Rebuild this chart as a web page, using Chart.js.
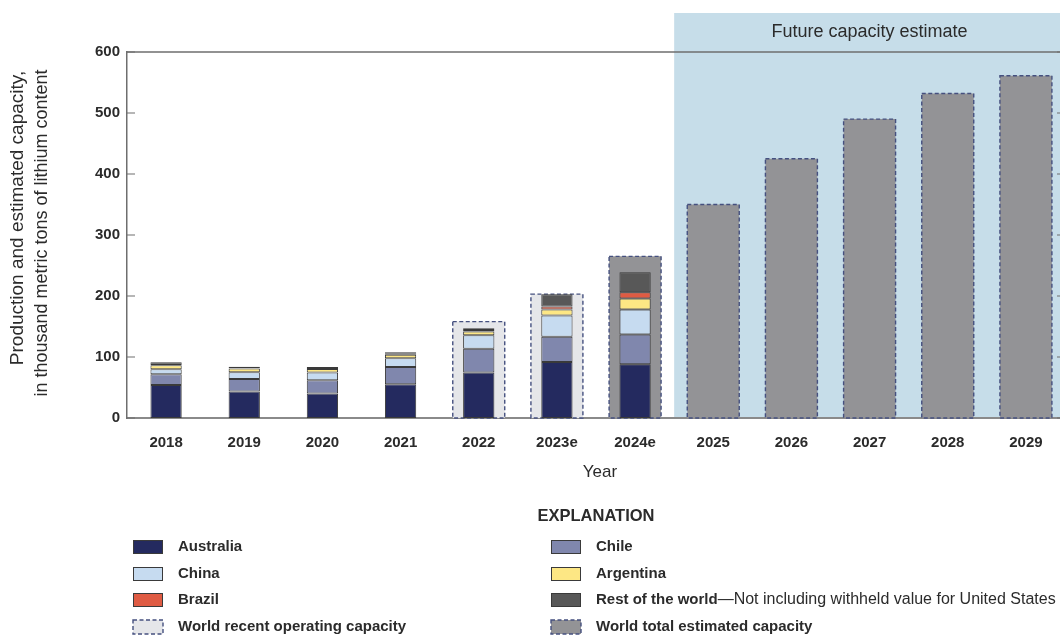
<!DOCTYPE html>
<html>
<head>
<meta charset="utf-8">
<script src="https://cdn.jsdelivr.net/npm/chart.js@4.4.1/dist/chart.umd.min.js"></script>
<style>
  html, body { margin: 0; padding: 0; background: #ffffff; overflow: hidden; width: 1060px; height: 635px; }
  #wrap { position: relative; width: 1075px; height: 635px; }
</style>
</head>
<body>
<div id="wrap"><canvas id="chart" width="1075" height="635"></canvas></div>
<script>
// Lithium mine production by country and world capacity, thousand metric tons of lithium content
const years = ['2018', '2019', '2020', '2021', '2022', '2023e', '2024e', '2025', '2026', '2027', '2028', '2029'];

const australia = [54, 43.5, 40, 55.3, 74.7, 91.7, 88, null, null, null, null, null];
const chile     = [17.6, 20.5, 22, 28.5, 39, 41.4, 49, null, null, null, null, null];
const china     = [8.5, 10.8, 12.5, 14, 22, 35, 41, null, null, null, null, null];
const argentina = [6.4, 6.3, 5.9, 6, 6.2, 9.6, 18, null, null, null, null, null];
const brazil    = [0.3, 0.3, 1.4, 1.7, 2.2, 4.9, 10, null, null, null, null, null];
const restWorld = [4.5, 2.6, 2, 2.2, 3, 20.4, 33, null, null, null, null, null];

const operatingCapacity = [null, null, null, null, 158, 203, null, null, null, null, null, null];
const totalCapacity     = [null, null, null, null, null, null, 265, 350, 425, 490, 532, 561];

const yTicks = [0, 100, 200, 300, 400, 500, 600];

const FONT = "'Liberation Sans Narrow', 'Arial Narrow', 'Liberation Sans', Arial, sans-serif";
const TEXT = '#2b2b2b';
const AXIS = '#6e6e6e';
const DASH_COLOR = '#45507f';

const colors = {
  australia: '#242a5f',
  chile: '#8087ad',
  china: '#c6dbf0',
  argentina: '#fde784',
  brazil: '#df5b43',
  rest: '#585858',
  operating: '#e5e6e9',
  total: '#939396',
  future: '#c6dde9'
};

function prodSet(label, data, color) {
  return {
    label, data, backgroundColor: color,
    borderColor: '#3a3a3a', borderWidth: 1, borderSkipped: false,
    stack: 'production', grouped: false,
    barPercentage: 0.4, categoryPercentage: 1
  };
}
function capSet(label, data, color, stack) {
  return {
    label, data, backgroundColor: color, borderWidth: 0,
    stack, grouped: false, dashed: true,
    barPercentage: 0.665, categoryPercentage: 1
  };
}

const datasets = [
  prodSet('Australia', australia, colors.australia),
  prodSet('Chile', chile, colors.chile),
  prodSet('China', china, colors.china),
  prodSet('Argentina', argentina, colors.argentina),
  prodSet('Brazil', brazil, colors.brazil),
  prodSet('Rest of the world', restWorld, colors.rest),
  capSet('World recent operating capacity', operatingCapacity, colors.operating, 'operating'),
  capSet('World total estimated capacity', totalCapacity, colors.total, 'total')
];

function dashedRect(ctx, x, y, w, h) {
  ctx.save();
  ctx.strokeStyle = DASH_COLOR;
  ctx.lineWidth = 1.4;
  ctx.setLineDash([4, 2.5]);
  ctx.strokeRect(x, y, w, h);
  ctx.restore();
}

function rotatedText(ctx, text, x, y) {
  ctx.save();
  ctx.translate(x, y);
  ctx.rotate(-Math.PI / 2);
  ctx.fillText(text, 0, 0);
  ctx.restore();
}

const decorations = {
  id: 'decorations',
  beforeDraw(chart) {
    const { ctx, chartArea: a, scales: { x } } = chart;
    const split = (x.getPixelForValue(6) + x.getPixelForValue(7)) / 2;
    ctx.save();
    ctx.fillStyle = colors.future;
    ctx.fillRect(split, 13, chart.width - split, a.bottom - 13);
    ctx.fillStyle = TEXT;
    ctx.font = `18px ${FONT}`;
    ctx.textAlign = 'center';
    ctx.textBaseline = 'middle';
    ctx.fillText('Future capacity estimate', (split + a.right) / 2, 32);
    ctx.restore();
  },
  afterDatasetDraw(chart, args) {
    const ds = chart.data.datasets[args.index];
    if (!ds.dashed) return;
    const { ctx } = chart;
    args.meta.data.forEach((bar, i) => {
      if (ds.data[i] == null) return;
      const p = bar.getProps(['x', 'y', 'base', 'width'], true);
      dashedRect(ctx, p.x - p.width / 2, p.y, p.width, p.base - p.y);
    });
  },
  afterDraw(chart) {
    const { ctx, chartArea: a, scales: { y } } = chart;
    ctx.save();
    // top frame line
    ctx.strokeStyle = AXIS;
    ctx.lineWidth = 1.5;
    ctx.beginPath();
    ctx.moveTo(a.left, a.top);
    ctx.lineTo(a.right, a.top);
    ctx.stroke();
    // inward tick marks on both vertical axes
    ctx.lineWidth = 1.2;
    yTicks.forEach(v => {
      const py = y.getPixelForValue(v);
      ctx.beginPath();
      ctx.moveTo(a.left, py); ctx.lineTo(a.left + 8, py);
      ctx.moveTo(a.right - 8, py); ctx.lineTo(a.right, py);
      ctx.stroke();
    });
    // y axis title
    ctx.fillStyle = TEXT;
    ctx.textAlign = 'center';
    ctx.textBaseline = 'middle';
    ctx.font = `19px ${FONT}`;
    rotatedText(ctx, 'Production and estimated capacity,', 18, 218);
    ctx.font = `18px ${FONT}`;
    rotatedText(ctx, 'in thousand metric tons of lithium content', 42, 233);
    // x axis title
    ctx.font = `17px ${FONT}`;
    ctx.fillText('Year', 600, 472);

    // explanation
    ctx.font = `bold 16.5px ${FONT}`;
    ctx.fillText('EXPLANATION', 596, 516);
    const ds = chart.data.datasets;
    const byLabel = l => ds.find(d => d.label === l);
    const cols = [
      { box: 133, text: 178, items: ['Australia', 'China', 'Brazil', 'World recent operating capacity'] },
      { box: 551, text: 596, items: ['Chile', 'Argentina', 'Rest of the world', 'World total estimated capacity'] }
    ];
    const rows = [547, 574, 600, 627];
    cols.forEach(col => {
      col.items.forEach((label, r) => {
        const d = byLabel(label);
        const cyr = rows[r];
        const bx = col.box, by = cyr - 7, bw = 30, bh = 14;
        ctx.fillStyle = d.backgroundColor;
        ctx.fillRect(bx, by, bw, bh);
        if (d.dashed) {
          dashedRect(ctx, bx, by, bw, bh);
        } else {
          ctx.strokeStyle = '#3a3a3a';
          ctx.lineWidth = 1;
          ctx.strokeRect(bx + 0.5, by + 0.5, bw - 1, bh - 1);
        }
        ctx.fillStyle = TEXT;
        ctx.textAlign = 'left';
        ctx.font = `bold 15px ${FONT}`;
        ctx.fillText(label, col.text, cyr);
        if (label === 'Rest of the world') {
          const w = ctx.measureText(label).width;
          ctx.font = `16px ${FONT}`;
          ctx.fillText('\u2014Not including withheld value for United States', col.text + w, cyr);
        }
      });
    });
    ctx.restore();
  }
};

new Chart(document.getElementById('chart'), {
  type: 'bar',
  data: { labels: years, datasets },
  options: {
    responsive: false,
    devicePixelRatio: 1,
    animation: false,
    layout: { padding: { top: 52, right: 10, bottom: 157, left: 0 } },
    plugins: { legend: { display: false }, tooltip: { enabled: false } },
    scales: {
      x: {
        stacked: true,
        grid: { display: false, drawTicks: false },
        border: { display: true, color: '#8a8a8a', width: 2 },
        ticks: { color: TEXT, font: { family: FONT, size: 15, weight: 'bold' }, padding: 16, maxRotation: 0 },
        afterFit(scale) { scale.height = 60; }
      },
      y: {
        stacked: true,
        min: 0, max: 600,
        grid: { display: false, drawTicks: false },
        border: { display: true, color: AXIS, width: 1.5 },
        ticks: { stepSize: 100, color: TEXT, font: { family: FONT, size: 15, weight: 'bold' }, padding: 7 },
        afterFit(scale) { scale.width = 127; }
      }
    }
  },
  plugins: [decorations]
});
</script>
</body>
</html>
